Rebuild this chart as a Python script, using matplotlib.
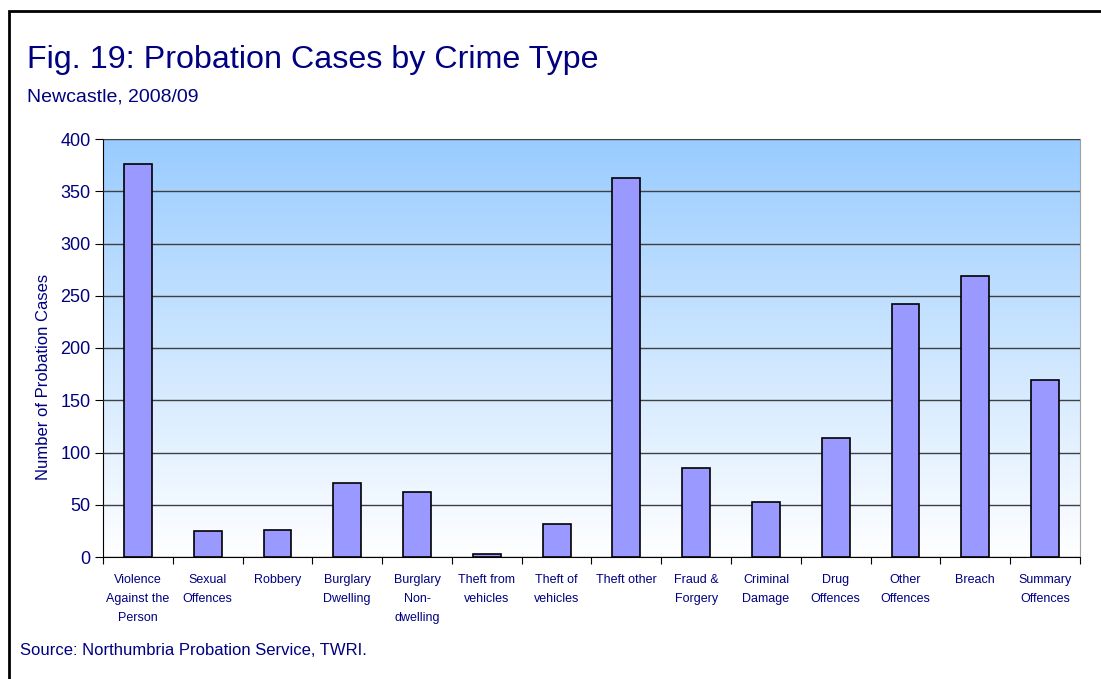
import matplotlib
matplotlib.use("Agg")
import matplotlib.pyplot as plt
import numpy as np
from matplotlib.colors import LinearSegmentedColormap

plt.rcParams['font.family'] = ['Liberation Sans', 'DejaVu Sans']

NAVY = "#000080"

categories = ["Violence\nAgainst the\nPerson", "Sexual\nOffences", "Robbery",
              "Burglary\nDwelling", "Burglary\nNon-\ndwelling", "Theft from\nvehicles",
              "Theft of\nvehicles", "Theft other", "Fraud &\nForgery", "Criminal\nDamage",
              "Drug\nOffences", "Other\nOffences", "Breach", "Summary\nOffences"]
cases = [376, 25, 26, 71, 62, 3, 32, 363, 85, 53, 114, 242, 269, 169]
yticks = [0, 50, 100, 150, 200, 250, 300, 350, 400]

fig = plt.figure(figsize=(11.01, 6.79), dpi=100)
# outer frame
fig.patches.append(plt.Rectangle((9/1101, -0.05), 1.1, 1 - 11/679 + 0.05,
                                 transform=fig.transFigure, fill=False,
                                 edgecolor="black", linewidth=2))

ax = fig.add_axes([103/1101, 1 - 557/679, 977/1101, 418/679])
x = np.arange(len(categories))

# gradient background
cmap = LinearSegmentedColormap.from_list("bg", ["#ffffff", "#99ccff"])
grad = np.linspace(0, 1, 256).reshape(-1, 1)
ax.imshow(grad, cmap=cmap, aspect="auto", origin="lower",
          extent=(-0.5, len(categories) - 0.5, 0, 400), zorder=0)

ax.bar(x, cases, width=0.4, color="#9999ff", edgecolor="black", linewidth=1.2, zorder=3)

ax.set_xlim(-0.5, len(categories) - 0.5)
ax.set_ylim(0, 400)
ax.set_yticks(yticks)
ax.yaxis.grid(True, color="#404040", linewidth=1, zorder=1)
ax.set_axisbelow(False)
for gl in ax.yaxis.get_gridlines():
    gl.set_zorder(1)

ax.set_xticks(np.arange(len(categories) + 1) - 0.5, minor=False)
ax.set_xticklabels([])
ax.set_xticks(x, minor=True)
ax.set_xticklabels(categories, minor=True, fontsize=9, color=NAVY, linespacing=1.78,
                   va="top")
ax.tick_params(axis="x", which="minor", length=0, pad=12)
ax.tick_params(axis="x", which="major", length=5, direction="out", color="black")
ax.tick_params(axis="y", length=6, direction="out", labelsize=13, labelcolor=NAVY, pad=3)

ax.spines["top"].set_color("#a0a0a0")
ax.spines["right"].set_color("#a0a0a0")
ax.spines["left"].set_color("black")
ax.spines["bottom"].set_color("black")

ax.set_ylabel("Number of Probation Cases", fontsize=12, color=NAVY)
ax.yaxis.set_label_coords(-52/977, (557 - 377)/418)

fig.text(27/1101, 1 - 68/679, "Fig. 19: Probation Cases by Crime Type",
         fontsize=23.2, color=NAVY)
fig.text(27/1101, 1 - 102/679, "Newcastle, 2008/09", fontsize=14, color=NAVY)
fig.text(20/1101, 1 - 655/679, "Source: Northumbria Probation Service, TWRI.",
         fontsize=12, color=NAVY)

fig.savefig("out.png", dpi=100)
